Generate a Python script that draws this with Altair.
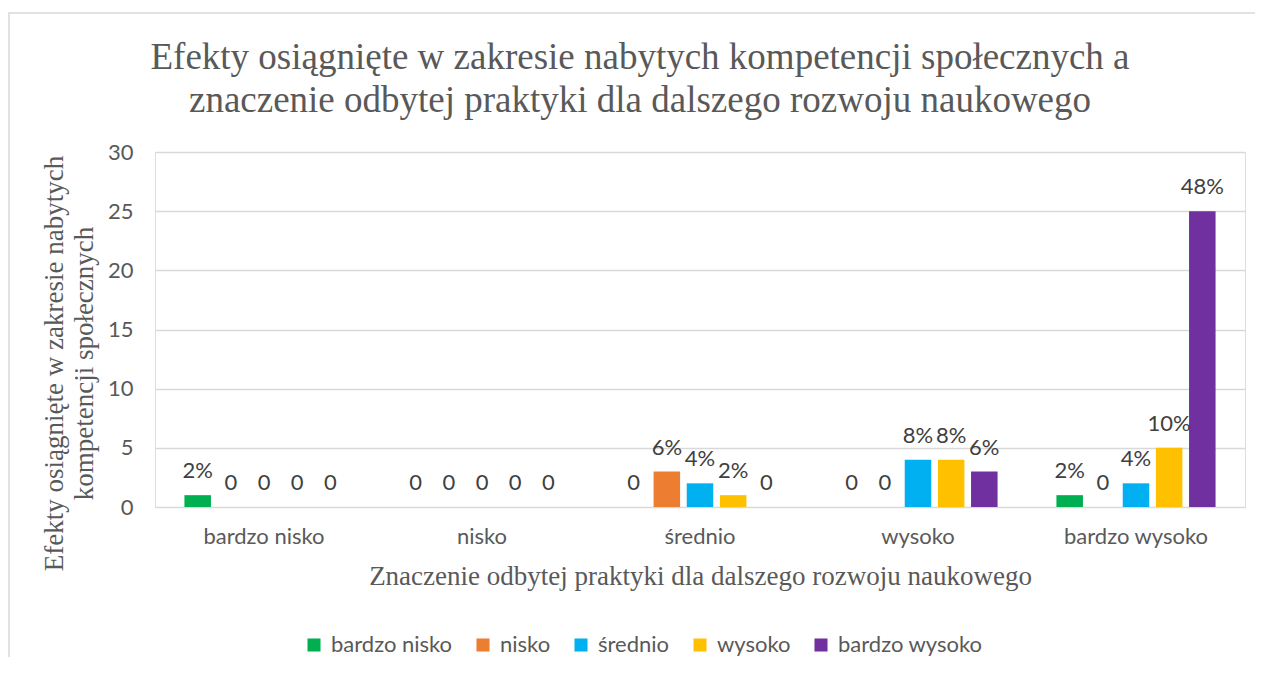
import altair as alt
import pandas as pd

categories = ["bardzo nisko", "nisko", "średnio", "wysoko", "bardzo wysoko"]
series = ["bardzo nisko", "nisko", "średnio", "wysoko", "bardzo wysoko"]
colors = ["#00B050", "#ED7D31", "#00B0F0", "#FFC000", "#7030A0"]

values_bardzo_nisko = [1, 0, 0, 0, 1]
values_nisko = [0, 0, 3, 0, 0]
values_srednio = [0, 0, 2, 4, 2]
values_wysoko = [0, 0, 1, 4, 5]
values_bardzo_wysoko = [0, 0, 0, 3, 25]

labels_bardzo_nisko = ["2%", "0", "0", "0", "2%"]
labels_nisko = ["0", "0", "6%", "0", "0"]
labels_srednio = ["0", "0", "4%", "8%", "4%"]
labels_wysoko = ["0", "0", "2%", "8%", "10%"]
labels_bardzo_wysoko = ["0", "0", "0", "6%", "48%"]

title_lines = ["Efekty osiągnięte w zakresie nabytych kompetencji społecznych a",
               "znaczenie odbytej praktyki dla dalszego rozwoju naukowego"]
y_title = ["Efekty osiągnięte w zakresie nabytych", "kompetencji społecznych"]
x_title = "Znaczenie odbytej praktyki dla dalszego rozwoju naukowego"

all_values = [values_bardzo_nisko, values_nisko, values_srednio, values_wysoko, values_bardzo_wysoko]
all_labels = [labels_bardzo_nisko, labels_nisko, labels_srednio, labels_wysoko, labels_bardzo_wysoko]

rows = []
for s, vals, labs in zip(series, all_values, all_labels):
    for c, v, l in zip(categories, vals, labs):
        rows.append({"kategoria": c, "seria": s, "wartosc": v, "etykieta": l})
df = pd.DataFrame(rows)

TXT = "#595959"
SANS = "Lato"
SERIF = "Liberation Serif"
FS = 22

x_enc = alt.X("kategoria:N", sort=categories,
              scale=alt.Scale(paddingInner=0.27, paddingOuter=0.135),
              axis=alt.Axis(title=x_title,
                            labelAngle=0, ticks=False, domain=False,
                            labelPadding=19, titlePadding=16,
                            labelFont=SANS, labelFontSize=FS, labelColor=TXT,
                            titleFont=SERIF, titleFontSize=27, titleColor=TXT,
                            titleFontWeight="normal"))
xo_enc = alt.XOffset("seria:N", sort=series, scale=alt.Scale(paddingInner=0.2))
y_enc = alt.Y("wartosc:Q", scale=alt.Scale(domain=[0, 30]),
              axis=alt.Axis(title=y_title,
                            values=[0, 5, 10, 15, 20, 25, 30], ticks=False, domain=False,
                            gridColor="#D9D9D9", gridWidth=1.5, labelPadding=22,
                            labelFont=SANS, labelFontSize=FS, labelColor=TXT,
                            titleFont=SERIF, titleFontSize=27, titleColor=TXT,
                            titleFontWeight="normal", titleX=-87, titleY=211,
                            titleLineHeight=30))

bars = alt.Chart(df).mark_bar().encode(
    x=x_enc, xOffset=xo_enc, y=y_enc,
    color=alt.Color("seria:N", sort=series,
                    scale=alt.Scale(domain=series, range=colors),
                    legend=alt.Legend(title=None, orient="none", direction="horizontal",
                                      legendX=148, legendY=482, symbolType="square",
                                      symbolSize=170, symbolStrokeWidth=0,
                                      labelFont=SANS, labelFontSize=FS, labelColor=TXT,
                                      columnPadding=19, labelOffset=6)),
)

texts = alt.Chart(df).mark_text(baseline="alphabetic", dy=-17, font=SANS, fontSize=FS,
                                color="#404040").encode(
    x=alt.X("kategoria:N", sort=categories), xOffset=alt.XOffset("seria:N", sort=series),
    y="wartosc:Q", text="etykieta:N",
)

one = pd.DataFrame({"k": [0]})

frame = alt.Chart(one).mark_rect(fill=None, stroke="#D9D9D9", strokeWidth=1.5).encode(
    x=alt.value(-146), x2=alt.value(1400), y=alt.value(-139), y2=alt.value(700)
)

title = alt.Chart(one).mark_text(font=SERIF, fontSize=37, color=TXT, align="center",
                                 baseline="alphabetic", lineHeight=43).encode(
    x=alt.value(485), y=alt.value(-83), text=alt.value(title_lines)
)

chart = alt.layer(frame, bars, texts, title).properties(
    width=1090, height=355,
    padding={"left": 147, "top": 144, "right": 10, "bottom": 150},
    autosize=alt.AutoSizeParams(type="none"),
).configure_view(stroke=None).configure(background="white")

chart.save("out.html", embed_options={"renderer": "svg", "actions": False})
